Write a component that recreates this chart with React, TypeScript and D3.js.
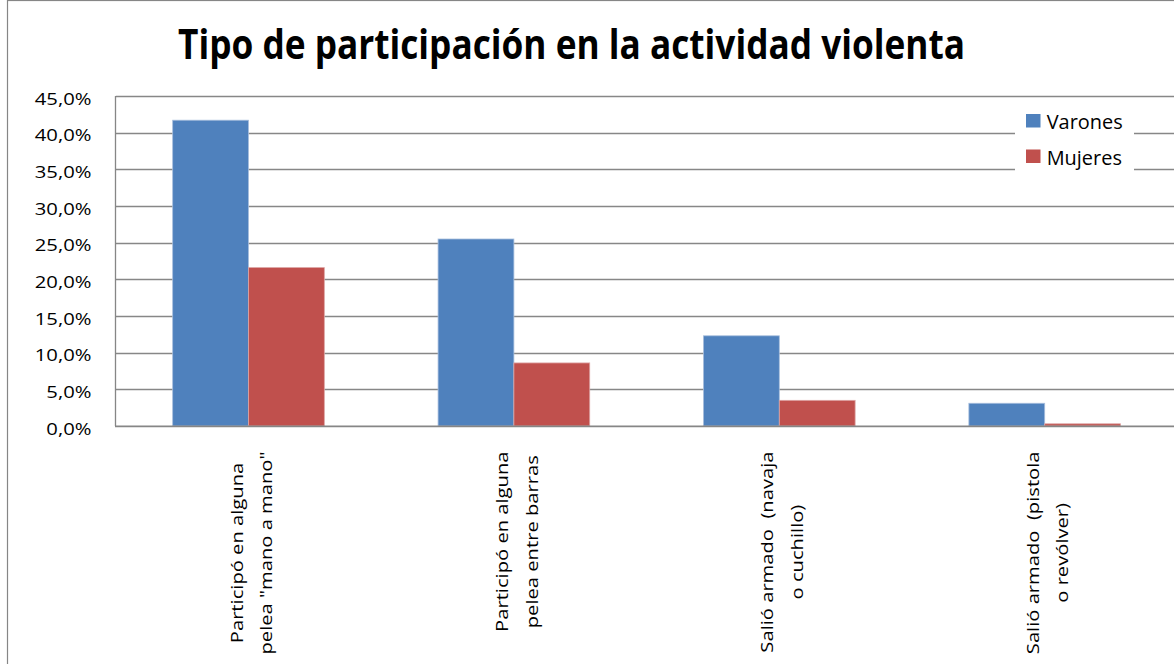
import React, { useEffect, useRef } from 'react';
import * as d3 from 'd3';

const title = 'Tipo de participación en la actividad violenta';
const categoryLines: string[][] = [
  ['Participó en alguna', 'pelea "mano a mano"'],
  ['Participó en alguna', 'pelea entre barras'],
  ['Salió armado  (navaja', 'o cuchillo)'],
  ['Salió armado  (pistola', 'o revólver)'],
];
const categories = categoryLines.map((l) => l.join(' '));
const seriesNames = ['Varones', 'Mujeres'];
const varones = [41.7, 25.5, 12.3, 3.1];
const mujeres = [21.6, 8.6, 3.5, 0.3];
const yTicks = [0, 5, 10, 15, 20, 25, 30, 35, 40, 45];
const colors = ['#4F81BD', '#C0504D'];

const W = 1174;
const H = 664;
const FONT = "'Open Sans', 'DejaVu Sans', sans-serif";

export default function App() {
  const ref = useRef<SVGSVGElement | null>(null);

  useEffect(() => {
    const svg = d3.select(ref.current);
    svg.selectAll('*').remove();

    const left = 115.8;
    const step = 265.4;
    const top = 96;
    const bottom = 426;

    const x = d3
      .scaleBand<string>()
      .domain(categories)
      .range([left, left + step * categories.length])
      .paddingInner(1.5 / 3.5)
      .paddingOuter(0.75 / 3.5);
    const xs = d3.scaleBand<string>().domain(seriesNames).range([0, x.bandwidth()]);
    const y = d3.scaleLinear().domain([0, 45]).range([bottom, top]);

    // outer chart border
    svg
      .append('rect')
      .attr('x', 7.5)
      .attr('y', 0.5)
      .attr('width', 1400)
      .attr('height', 1000)
      .attr('fill', '#fff')
      .attr('stroke', '#868686')
      .attr('stroke-width', 1.2);

    // gridlines
    svg
      .append('g')
      .selectAll('line')
      .data(yTicks.filter((t) => t > 0))
      .join('line')
      .attr('x1', left)
      .attr('x2', W)
      .attr('y1', (d) => Math.round(y(d)) + 0.5)
      .attr('y2', (d) => Math.round(y(d)) + 0.5)
      .attr('stroke', '#878787')
      .attr('stroke-width', 1.3);

    // bars
    const series = [varones, mujeres];
    series.forEach((vals, si) => {
      svg
        .append('g')
        .selectAll('rect')
        .data(vals)
        .join('rect')
        .attr('x', (_, i) => (x(categories[i]) as number) + (xs(seriesNames[si]) as number))
        .attr('y', (d) => y(d))
        .attr('width', xs.bandwidth())
        .attr('height', (d) => y(0) - y(d))
        .attr('fill', colors[si])
        .attr('stroke', si === 0 ? '#a7bedd' : '#dda5a4')
        .attr('stroke-width', 0.8);
    });

    // axes
    svg
      .append('line')
      .attr('x1', 115.5)
      .attr('x2', 115.5)
      .attr('y1', top)
      .attr('y2', bottom)
      .attr('stroke', '#868686')
      .attr('stroke-width', 1.3);
    svg
      .append('line')
      .attr('x1', 115)
      .attr('x2', W)
      .attr('y1', bottom + 0.3)
      .attr('y2', bottom + 0.3)
      .attr('stroke', '#868686')
      .attr('stroke-width', 1.8);

    // y tick labels
    const tl = svg
      .append('g')
      .selectAll('text')
      .data(yTicks)
      .join('text')
      .attr('x', 91.5)
      .attr('y', (d) => y(d) + 2)
      .attr('text-anchor', 'end')
      .attr('dominant-baseline', 'central')
      .attr('font-family', FONT)
      .attr('font-size', 16.5)
      .attr('fill', '#000')
      .text((d) => `${d.toFixed(1).replace('.', ',')}%`);
    const tNodes = tl.nodes() as SVGTextElement[];
    const refTick = tNodes[tNodes.length - 1].getComputedTextLength();
    const kTick = 56.7 / refTick;
    tNodes.forEach((n) => {
      n.setAttribute('textLength', String(n.getComputedTextLength() * kTick));
      n.setAttribute('lengthAdjust', 'spacingAndGlyphs');
    });

    // category labels
    const catG = svg.append('g');
    let kCat = 1;
    categoryLines.forEach((lines, ci) => {
      const cx = (x(categories[ci]) as number) + x.bandwidth() / 2;
      const nodes = lines.map((ln) =>
        catG
          .append('text')
          .attr('font-family', FONT)
          .attr('font-size', 17)
          .attr('fill', '#000')
          .attr('text-anchor', 'middle')
          .style('white-space', 'pre')
          .text(ln)
          .node() as SVGTextElement
      );
      const nat = nodes.map((n) => n.getComputedTextLength());
      if (ci === 0) kCat = 203 / Math.max(...nat);
      const lens = nat.map((l) => l * kCat);
      const maxLen = Math.max(...lens);
      const yc = 451.5 + maxLen / 2;
      nodes.forEach((n, li) => {
        const bx = cx - 6 + li * 29.6;
        n.setAttribute('transform', `translate(${bx},${yc}) rotate(-90)`);
        n.setAttribute('textLength', String(lens[li]));
        n.setAttribute('lengthAdjust', 'spacingAndGlyphs');
      });
    });

    // legend
    svg
      .append('rect')
      .attr('x', 1015)
      .attr('y', 104)
      .attr('width', 119)
      .attr('height', 74)
      .attr('fill', '#fff');
    const legY = [114, 149.5];
    const legBase = [128.5, 164.5];
    let kLeg = 1;
    seriesNames.forEach((name, i) => {
      svg
        .append('rect')
        .attr('x', 1026)
        .attr('y', legY[i])
        .attr('width', 14.5)
        .attr('height', 13.5)
        .attr('fill', colors[i]);
      const t = svg
        .append('text')
        .attr('x', 1046.7)
        .attr('y', legBase[i])
        .attr('font-family', FONT)
        .attr('font-size', 19.5)
        .attr('fill', '#000')
        .text(name)
        .node() as SVGTextElement;
      const nl = t.getComputedTextLength();
      if (i === 0) kLeg = 76 / nl;
      t.setAttribute('textLength', String(nl * kLeg));
      t.setAttribute('lengthAdjust', 'spacingAndGlyphs');
    });

    // title
    svg
      .append('text')
      .attr('x', 571.5)
      .attr('y', 58.5)
      .attr('text-anchor', 'middle')
      .attr('font-family', FONT)
      .attr('font-weight', 700)
      .attr('font-size', 42)
      .attr('fill', '#000')
      .attr('textLength', 787)
      .attr('lengthAdjust', 'spacingAndGlyphs')
      .text(title);
  }, []);

  return (
    <svg
      ref={ref}
      width={W}
      height={H}
      style={{ position: 'absolute', left: 0, top: 0, background: '#fff', display: 'block' }}
    />
  );
}
